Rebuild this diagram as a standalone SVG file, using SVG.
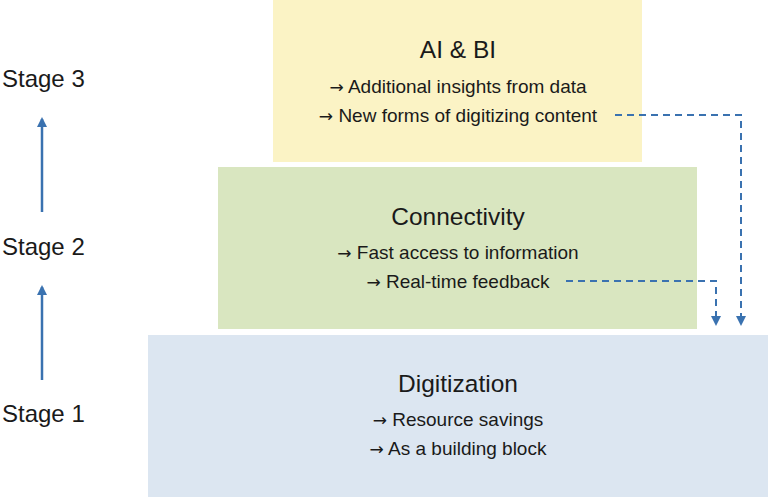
<svg xmlns="http://www.w3.org/2000/svg" width="768" height="497" viewBox="0 0 768 497">
<style>
text{font-family:"Liberation Sans",Arial,sans-serif;fill:#1a1a1a}
.t{font-size:24.5px;text-anchor:middle}
.l{font-size:19px;text-anchor:middle}
.s{font-size:24px}
.ar{font-family:"DejaVu Sans",sans-serif;font-size:17px}
.d{fill:none;stroke:#3a72b0;stroke-width:2;stroke-dasharray:7,5}
.a{stroke:#3a72b0;stroke-width:2.5}
</style>
<defs>
<marker id="ah" markerWidth="10" markerHeight="10" refX="8" refY="5" orient="auto" markerUnits="userSpaceOnUse"><path d="M0,0 L10,5 L0,10 Z" fill="#3a72b0"/></marker>
</defs>
<rect width="768" height="497" fill="#fff"/>
<g id="digitization"><rect x="148" y="335" width="620" height="162" fill="#dce6f1"/>
<text class="t" x="458" y="392">Digitization</text>
<text class="l" x="458" y="426"><tspan class="ar">→</tspan> Resource savings</text>
<text class="l" x="458" y="455"><tspan class="ar">→</tspan> As a building block</text></g>
<g id="connectivity"><rect x="218" y="167" width="479" height="162" fill="#d9e6c0"/>
<text class="t" x="458" y="225">Connectivity</text>
<text class="l" x="458" y="259"><tspan class="ar">→</tspan> Fast access to information</text>
<text class="l" x="458" y="288"><tspan class="ar">→</tspan> Real-time feedback</text></g>
<g id="aibi"><rect x="273" y="0" width="369" height="162" fill="#fbf3c5"/>
<text class="t" x="458" y="58">AI &amp; BI</text>
<text class="l" x="458" y="93"><tspan class="ar">→</tspan> Additional insights from data</text>
<text class="l" x="458" y="122"><tspan class="ar">→</tspan> New forms of digitizing content</text></g>
<g id="stages"><text class="s" x="2" y="87">Stage 3</text><text class="s" x="2" y="255">Stage 2</text><text class="s" x="2" y="422">Stage 1</text></g>
<g id="connectors">
<line class="a" x1="42" y1="380" x2="42" y2="287" marker-end="url(#ah)"/>
<line class="a" x1="42" y1="212" x2="42" y2="119" marker-end="url(#ah)"/>
<path class="d" d="M615,115 H741 V324" marker-end="url(#ah)"/>
<path class="d" d="M566,281 H716 V324" marker-end="url(#ah)"/>
</g>
</svg>
